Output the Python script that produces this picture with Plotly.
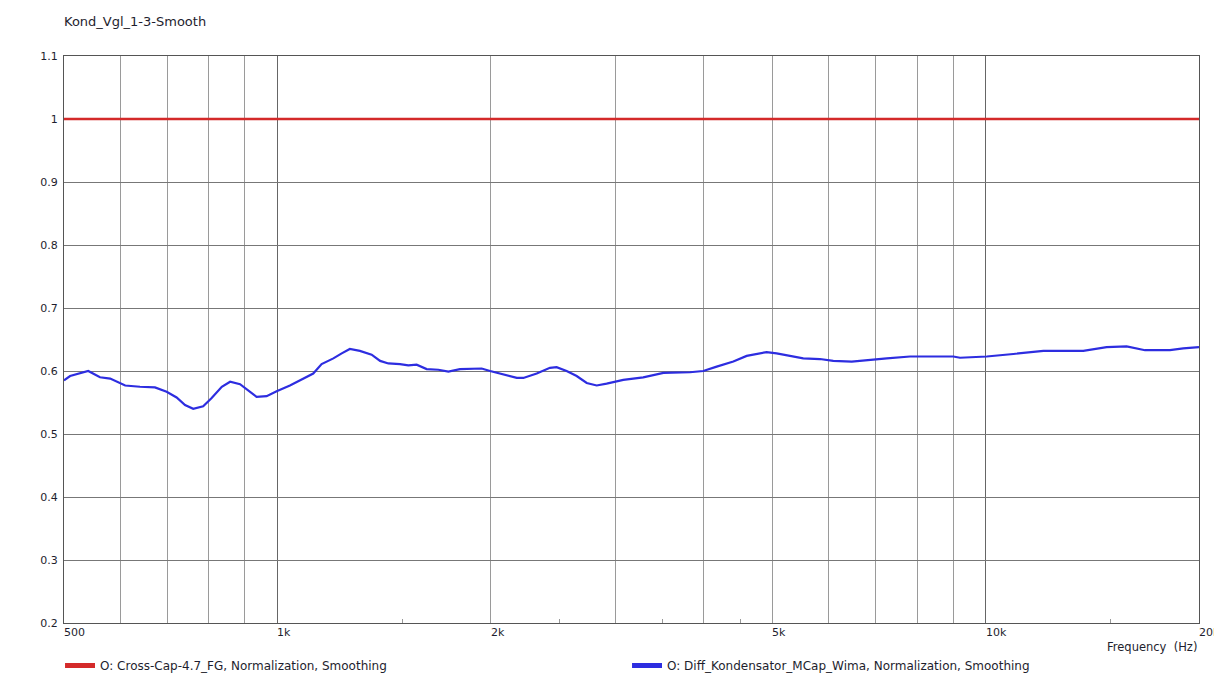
import math
import plotly.graph_objects as go

# Data
red_freq = [500, 20000]
red_vals = [1.0, 1.0]

blue_freq = [500, 510, 541, 562, 581, 610, 640, 672, 698, 721, 741, 761, 786, 808,
             835, 858, 886, 910, 935, 966, 998, 1042, 1088, 1124, 1155, 1200, 1233,
             1266, 1308, 1359, 1397, 1435, 1490, 1531, 1573, 1625, 1688, 1744, 1811,
             1943, 1997, 2084, 2178, 2225, 2324, 2426, 2479, 2561, 2646, 2734, 2824,
             2917, 3079, 3285, 3508, 3825, 3993, 4171, 4403, 4598, 4906, 5068, 5236,
             5526, 5834, 6092, 6469, 6718, 7250, 7819, 9000, 9197, 10032, 10938,
             12061, 13731, 14813, 15811, 16782, 18197, 19000, 20000]
blue_vals = [0.585, 0.592, 0.600, 0.590, 0.588, 0.577, 0.575, 0.574, 0.567, 0.558,
             0.546, 0.540, 0.544, 0.557, 0.575, 0.583, 0.579, 0.569, 0.559, 0.560,
             0.568, 0.577, 0.588, 0.596, 0.611, 0.620, 0.628, 0.635, 0.632, 0.626,
             0.616, 0.612, 0.611, 0.609, 0.610, 0.603, 0.602, 0.599, 0.603, 0.604,
             0.600, 0.595, 0.589, 0.589, 0.596, 0.605, 0.606, 0.600, 0.592, 0.581,
             0.577, 0.580, 0.586, 0.590, 0.597, 0.598, 0.600, 0.607, 0.615, 0.624,
             0.630, 0.628, 0.625, 0.620, 0.619, 0.616, 0.615, 0.617, 0.620, 0.623,
             0.623, 0.621, 0.623, 0.627, 0.632, 0.632, 0.638, 0.639, 0.633, 0.633,
             0.636, 0.638]

light_grid = [600, 700, 800, 900, 2000, 3000, 4000, 5000, 6000, 7000, 8000, 9000]
dark_grid = [1000, 10000]
small_ticks = [1500, 2500, 3500, 4500, 15000]
x_labels_vals = [500, 1000, 2000, 5000, 10000, 20000]
x_labels_text = ["500", "1k", "2k", "5k", "10k", "20k"]

title_text = "Kond_Vgl_1-3-Smooth"
red_name = "O: Cross-Cap-4.7_FG, Normalization, Smoothing"
blue_name = "O: Diff_Kondensator_MCap_Wima, Normalization, Smoothing"

RED = "#d42a2a"
BLUE = "#2d2de0"
FONT = "DejaVu Sans"
TXT = "#1e1e2e"

W, H = 1214, 683  # page adds an 8px body margin

fig = go.Figure()
fig.add_trace(go.Scatter(x=red_freq, y=red_vals, mode="lines",
                         line=dict(color=RED, width=2.5), showlegend=False))
fig.add_trace(go.Scatter(x=blue_freq, y=blue_vals, mode="lines",
                         line=dict(color=BLUE, width=2.2), showlegend=False))
# legend entries (thicker swatches)
fig.add_trace(go.Scatter(x=[None], y=[None], mode="lines", name=red_name,
                         line=dict(color=RED, width=5), xaxis="x2"))
fig.add_trace(go.Scatter(x=[None], y=[None], mode="lines", name=blue_name,
                         line=dict(color=BLUE, width=5), xaxis="x2"))

xr = [math.log10(500), math.log10(20000)]

fig.update_layout(
    width=W, height=H,
    margin=dict(l=56, r=23, t=48, b=68, autoexpand=False),
    paper_bgcolor="white", plot_bgcolor="white",
    font=dict(family=FONT, size=11, color=TXT),
    title=dict(text=title_text, x=56/W, xanchor="left", xref="container",
               y=1 - 13/H, yanchor="middle", yref="container",
               font=dict(family=FONT, size=13, color=TXT)),
    xaxis=dict(type="log", range=xr, tickmode="array", tickvals=dark_grid,
               showticklabels=False, ticks="", showgrid=True, gridcolor="#666666",
               gridwidth=1, showline=True, linecolor="#555555", linewidth=1, mirror=True,
               zeroline=False,
               minor=dict(tickmode="array", tickvals=light_grid, showgrid=True,
                          gridcolor="#9a9a9a", gridwidth=1, ticks="")),
    xaxis2=dict(type="log", range=xr, overlaying="x", anchor="y", side="bottom",
                tickmode="array", tickvals=small_ticks, showticklabels=False,
                ticks="inside", ticklen=4, tickcolor="#999999", showgrid=False,
                zeroline=False, showline=False),
    yaxis=dict(range=[0.2, 1.1], tickmode="linear", tick0=0.2, dtick=0.1,
               showgrid=True, gridcolor="#777777", gridwidth=1, ticks="",
               showline=True, linecolor="#555555", mirror=True, zeroline=False,
               tickfont=dict(family=FONT, size=11, color=TXT), ticklabelstandoff=3),
    legend=dict(orientation="h", x=-0.0035, xanchor="left", y=-0.0494, yanchor="top",
                entrywidth=522, entrywidthmode="pixels",
                font=dict(family=FONT, size=12, color=TXT),
                itemwidth=30, bgcolor="rgba(0,0,0,0)", tracegroupgap=0),
)

annotations = []
for v, t in zip(x_labels_vals, x_labels_text):
    annotations.append(dict(x=math.log10(v), xref="x", y=-0.0176, yref="paper",
                            text=t, showarrow=False, xanchor="left", yanchor="middle",
                            xshift=-2, font=dict(family=FONT, size=11, color=TXT)))
annotations.append(dict(x=1, xref="paper", y=-0.0423, yref="paper",
                        text="Frequency  (Hz)", showarrow=False, xanchor="right",
                        yanchor="middle", font=dict(family=FONT, size=11.5, color=TXT)))
fig.update_layout(annotations=annotations)

fig.write_html("out.html")
